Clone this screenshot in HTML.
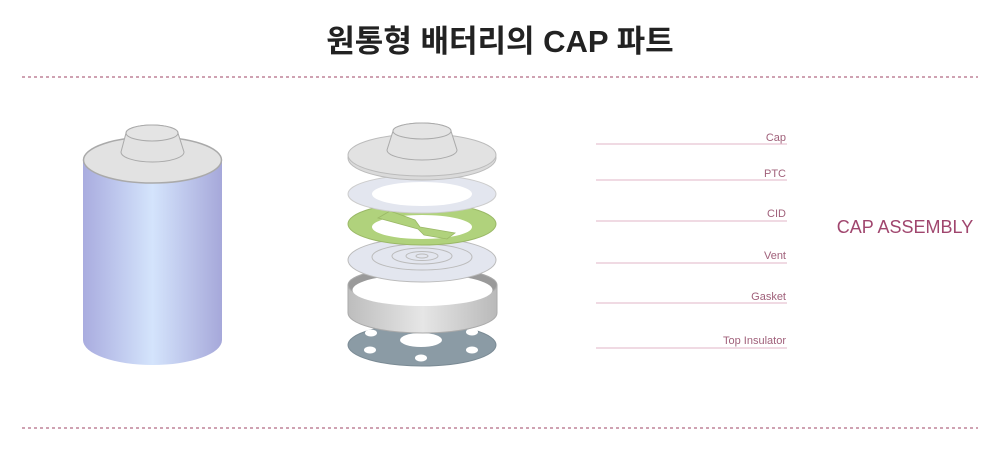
<!DOCTYPE html>
<html><head><meta charset="utf-8"><style>
html,body{margin:0;padding:0;background:#fff;width:1000px;height:472px;overflow:hidden}
svg{display:block}
</style></head><body>
<svg width="1000" height="472" viewBox="0 0 1000 472" xmlns="http://www.w3.org/2000/svg">
<defs>
<linearGradient id="cyl" x1="0" x2="1" y1="0" y2="0">
<stop offset="0" stop-color="#a9acdf"/><stop offset="0.5" stop-color="#d4e4fc"/><stop offset="1" stop-color="#a6a8da"/>
</linearGradient>
<linearGradient id="gas" x1="0" x2="1" y1="0" y2="0">
<stop offset="0" stop-color="#bdbdbd"/><stop offset="0.5" stop-color="#e6e6e6"/><stop offset="1" stop-color="#b9b9b9"/>
</linearGradient>
</defs>
<text x="500" y="52" text-anchor="middle" font-family="'Liberation Sans','Noto Sans CJK KR',sans-serif" font-size="31" font-weight="bold" fill="#222">원통형 배터리의 CAP 파트</text>
<line x1="22" y1="77" x2="978" y2="77" stroke="#b26a84" stroke-width="1.3" stroke-dasharray="3,3"/>
<line x1="22" y1="428" x2="978" y2="428" stroke="#b26a84" stroke-width="1.3" stroke-dasharray="3,3"/>

<!-- cylinder -->
<path d="M83 160 L83 340 A69.5 25 0 0 0 222 340 L222 160 Z" fill="url(#cyl)"/>
<ellipse cx="152.5" cy="160" rx="69" ry="23" fill="#e2e2e2" stroke="#aaa" stroke-width="1.5"/>
<path d="M121 152 L126 133 A26 8 0 0 1 178 133 L184 152 A31.5 10 0 0 1 121 152 Z" fill="#e2e2e2" stroke="#aaa" stroke-width="1"/>
<ellipse cx="152" cy="133" rx="26" ry="8" fill="#e4e4e4" stroke="#aaa" stroke-width="1"/>

<!-- top insulator -->
<ellipse cx="422" cy="345" rx="74" ry="21" fill="#8b9ba5" stroke="#7a8a94"/>
<ellipse cx="421" cy="340" rx="21" ry="7" fill="#fff"/>
<ellipse cx="371" cy="333" rx="6" ry="3.5" fill="#fff"/>
<ellipse cx="472" cy="332" rx="6" ry="3.5" fill="#fff"/>
<ellipse cx="370" cy="350" rx="6" ry="3.5" fill="#fff"/>
<ellipse cx="472" cy="350" rx="6" ry="3.5" fill="#fff"/>
<ellipse cx="421" cy="358" rx="6" ry="3.5" fill="#fff"/>

<!-- gasket -->
<path d="M348 285 L348 313 A74.5 20 0 0 0 497 313 L497 285 Z" fill="url(#gas)" stroke="#aaa"/>
<ellipse cx="422.5" cy="285" rx="74.5" ry="18" fill="#9a9a9a" stroke="#aaa"/>
<ellipse cx="422.5" cy="290" rx="70" ry="16" fill="#fff"/>

<!-- vent -->
<ellipse cx="422" cy="260" rx="74" ry="22" fill="#e3e6ef" stroke="#bbb"/>
<ellipse cx="422" cy="257" rx="50" ry="13" fill="none" stroke="#bbb"/>
<ellipse cx="422" cy="256" rx="30" ry="8" fill="none" stroke="#bbb"/>
<ellipse cx="422" cy="256" rx="16" ry="4.5" fill="none" stroke="#bbb"/>
<ellipse cx="422" cy="256" rx="6" ry="2" fill="none" stroke="#bbb"/>

<!-- CID -->
<ellipse cx="422" cy="224" rx="74" ry="21" fill="#b0d27c" stroke="#9ab866"/>
<ellipse cx="422" cy="227" rx="50" ry="12" fill="#fff"/>
<path d="M378 218 L390 211 L415 220 L420 227 L455 233 L447 239 L424 235 L418 229 Z" fill="#b0d27c" stroke="#9ab866" stroke-width="0.8"/>

<!-- PTC -->
<ellipse cx="422" cy="194" rx="74" ry="19" fill="#e3e6ef" stroke="#ccc"/>
<ellipse cx="422" cy="194" rx="50" ry="12" fill="#fff"/>

<!-- cap -->
<ellipse cx="422" cy="158" rx="74" ry="22" fill="#dadada" stroke="#bbb"/>
<ellipse cx="422" cy="155" rx="74" ry="21" fill="#e2e2e2" stroke="#bbb"/>
<path d="M387 150 L393 131 A29 8 0 0 1 451 131 L457 150 A35 10 0 0 1 387 150 Z" fill="#e2e2e2" stroke="#aaa"/>
<ellipse cx="422" cy="131" rx="29" ry="8" fill="#e4e4e4" stroke="#aaa"/>

<!-- labels -->
<g stroke="#e7c4d2" stroke-width="1.2">
<line x1="596" y1="144" x2="787" y2="144"/>
<line x1="596" y1="180" x2="787" y2="180"/>
<line x1="596" y1="221" x2="787" y2="221"/>
<line x1="596" y1="263" x2="787" y2="263"/>
<line x1="596" y1="303" x2="787" y2="303"/>
<line x1="596" y1="348" x2="787" y2="348"/>
</g>
<g font-family="'Liberation Sans',sans-serif" font-size="11" fill="#a0607a" text-anchor="end">
<text x="786" y="141">Cap</text>
<text x="786" y="177">PTC</text>
<text x="786" y="217">CID</text>
<text x="786" y="259">Vent</text>
<text x="786" y="300">Gasket</text>
<text x="786" y="344">Top Insulator</text>
</g>
<text x="905" y="233" text-anchor="middle" font-family="'Liberation Sans',sans-serif" font-size="18" fill="#a0466e">CAP ASSEMBLY</text>
</svg>
</body></html>
